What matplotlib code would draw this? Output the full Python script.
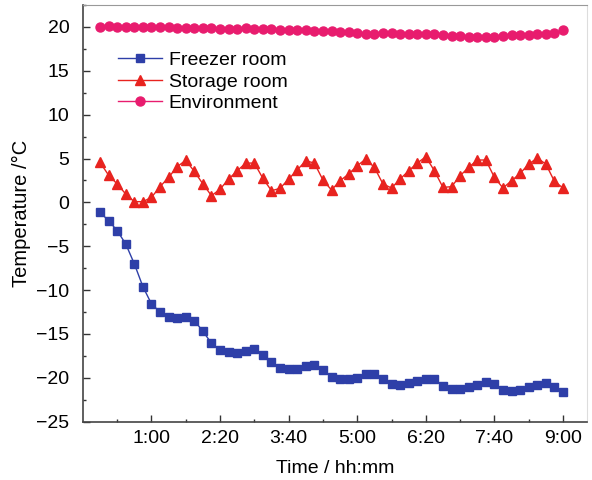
import matplotlib
matplotlib.use("Agg")
import matplotlib.pyplot as plt
from matplotlib.ticker import FixedLocator, MultipleLocator
import numpy as np

plt.rcParams['font.family'] = ['Liberation Sans', 'DejaVu Sans']

# time in minutes, one reading every 10 min
time_min = list(range(0, 541, 10))

freezer = [-1.14, -2.08, -3.22, -4.74, -7.0, -9.6, -11.57, -12.5, -13.02, -13.17,
           -13.02, -13.47, -14.69, -16.06, -16.8, -17.08, -17.15, -16.9, -16.7, -17.35,
           -18.2, -18.86, -18.98, -18.98, -18.7, -18.48, -19.09, -19.93, -20.1, -20.1,
           -20.0, -19.6, -19.55, -20.1, -20.7, -20.8, -20.6, -20.4, -20.1, -20.1,
           -20.95, -21.25, -21.25, -21.07, -20.76, -20.42, -20.7, -21.37, -21.5, -21.37,
           -21.07, -20.76, -20.6, -21.07, -21.56]

storage = [4.56, 3.1, 2.1, 0.95, 0.08, 0.08, 0.57, 1.79, 2.85, 4.07,
           4.8, 3.53, 2.1, 0.76, 1.5, 2.66, 3.6, 4.48, 4.48, 2.73,
           1.33, 1.6, 2.66, 3.69, 4.75, 4.48, 2.55, 1.41, 2.47, 3.23,
           4.18, 4.94, 3.99, 2.1, 1.64, 2.66, 3.6, 4.48, 5.2, 3.6,
           1.71, 1.79, 3.04, 3.99, 4.83, 4.83, 2.85, 1.64, 2.47, 3.3,
           4.37, 5.05, 4.37, 2.4, 1.64]

environment = [20.0, 20.05, 20.0, 20.0, 20.0, 20.0, 20.0, 19.95, 19.95, 19.9,
               19.9, 19.9, 19.85, 19.85, 19.8, 19.8, 19.8, 19.85, 19.8, 19.75,
               19.75, 19.7, 19.65, 19.6, 19.6, 19.55, 19.5, 19.5, 19.45, 19.4,
               19.3, 19.25, 19.25, 19.3, 19.3, 19.25, 19.2, 19.2, 19.15, 19.2,
               19.1, 19.0, 18.95, 18.9, 18.85, 18.85, 18.9, 19.0, 19.1, 19.1,
               19.05, 19.15, 19.25, 19.35, 19.6]

xtick_pos = [60, 140, 220, 300, 380, 460, 540]
xtick_labels = ['1:00', '2:20', '3:40', '5:00', '6:20', '7:40', '9:00']
ytick_pos = [20, 15, 10, 5, 0, -5, -10, -15, -20, -25]
ytick_labels = ['20', '15', '10', '5', '0', '\u22125', '\u221210', '\u221215', '\u221220', '\u221225']

fig = plt.figure(figsize=(5.92, 4.80), dpi=100)
ax = fig.add_axes([83.3/592, (480-421.7)/480, (587-83.3)/592, (421.7-5)/480])

ax.plot(time_min, freezer, color='#2E3FA8', marker='s', markersize=6, lw=1.0, label='Freezer room')
ax.plot(time_min, storage, color='#E8231F', marker='^', markersize=7, lw=1.0, label='Storage room')
ax.plot(time_min, environment, color='#E81C6E', marker='o', markersize=6.5, lw=1.0, label='Environment')

ax.set_xlim(-19.5, 568)
ax.set_ylim(-25, 22.5)
ax.xaxis.set_major_locator(FixedLocator(xtick_pos))
ax.set_xticklabels(xtick_labels)
ax.xaxis.set_minor_locator(FixedLocator([20, 100, 180, 260, 340, 420, 500]))
ax.set_yticks(ytick_pos)
ax.set_yticklabels(ytick_labels)
ax.yaxis.set_minor_locator(MultipleLocator(2.5))

ax.tick_params(which='major', direction='in', length=5, width=1, labelsize=14, color='#333333')
ax.tick_params(which='minor', direction='in', length=2.5, width=1, color='#333333')
ax.tick_params(axis='x', pad=6)
ax.tick_params(axis='y', pad=10)

for s in ['left', 'bottom']:
    ax.spines[s].set_color('#444444')
    ax.spines[s].set_linewidth(1.2)
ax.spines['top'].set_color('#999999')
ax.spines['right'].set_color('#dddddd')

ax.set_xlabel('Time / hh:mm', fontsize=14, labelpad=9)
ax.set_ylabel('Temperature /\u00b0C', fontsize=14.5, labelpad=4)

ax.legend(loc='upper left', bbox_to_anchor=(0.049, 0.912), frameon=False, fontsize=14,
          borderpad=0, handlelength=2.27, handletextpad=0.36, labelspacing=0.2)

fig.savefig('out.png', dpi=100)
